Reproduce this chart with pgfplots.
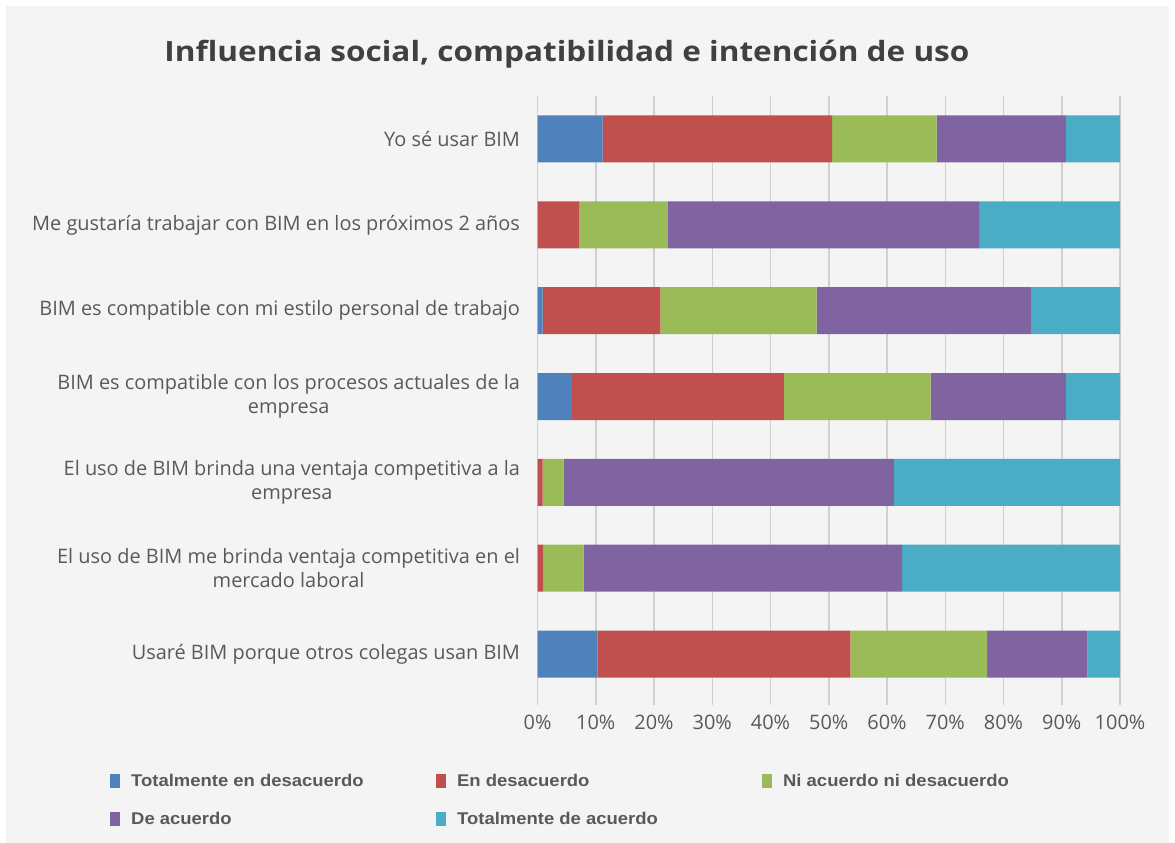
\documentclass[border=0pt]{standalone}
\usepackage{pgfplots}
\pgfplotsset{compat=1.18}
\usepackage{fontspec}
\setmainfont{Open Sans}
\newfontfamily\legfont{Liberation Sans}
\definecolor{bgc}{HTML}{F4F4F4}
\definecolor{cBlue}{HTML}{4F81BD}
\definecolor{cRed}{HTML}{C0504D}
\definecolor{cGreen}{HTML}{9BBB59}
\definecolor{cPurple}{HTML}{8064A2}
\definecolor{cCyan}{HTML}{4BACC6}
\definecolor{txt}{HTML}{595959}
\definecolor{ttl}{HTML}{404040}
\definecolor{gridc}{HTML}{D0D0D0}
\newcommand{\leg}[1]{\makebox[312bp][l]{\hspace*{9bp}\scalebox{1.09}[1]{#1}}}
\begin{document}
\begin{tikzpicture}
\fill[white] (0,0) rectangle (1175bp,-843bp);
\fill[bgc] (6bp,-6bp) rectangle (1169bp,-843bp);
\node[font=\bfseries\fontsize{28}{32}\selectfont, text=ttl] at (567bp,-54bp) {\scalebox{1.13}[1]{Influencia social, compatibilidad e intención de uso}};
\begin{axis}[
  at={(537.5bp,-96bp)}, anchor=north west,
  scale only axis, width=582.5bp, height=601bp,
  xbar stacked, bar width=47bp,
  xmin=0, xmax=100, ymin=0.5, ymax=7.5, y dir=reverse,
  ytick={1,...,7},
  yticklabels={{Yo sé usar BIM},{Me gustaría trabajar con BIM en los próximos 2 años},{BIM es compatible con mi estilo personal de trabajo},{BIM es compatible con los procesos actuales de la\\empresa},{El uso de BIM brinda una ventaja competitiva a la\\empresa},{El uso de BIM me brinda ventaja competitiva en el\\mercado laboral},{Usaré BIM porque otros colegas usan BIM}},
  yticklabel style={align=center, font=\fontsize{20}{24.5}\selectfont, text=txt},
  y tick label style={xshift=-6bp},
  major y tick style={draw=none},
  xtick={0,10,...,100},
  xticklabel={\pgfmathprintnumber{\tick}\%},
  xticklabel style={font=\fontsize{20}{24}\selectfont, text=txt, yshift=-7bp},
  /pgf/number format/assume math mode=true,
  xmajorgrids, grid style={gridc, line width=1.5bp},
  major x tick style={gridc, line width=1.5bp},
  tick align=outside, major tick length=8bp,
  axis x line*=bottom, axis y line*=left,
  x axis line style={draw=none}, y axis line style={draw=none},
  every axis plot/.append style={draw=none},
  legend style={at={(-427.5bp,-676bp)}, anchor=north west, draw=none, fill=none,
    legend columns=3, font=\legfont\bfseries\fontsize{17}{20}\selectfont, text=txt,
    row sep=20bp, inner sep=0pt, column sep=0pt},
  legend cell align=left,
  legend image code/.code={\fill[#1,draw=none] (0bp,-7bp) rectangle (10bp,7bp);},
  clip=false,
]
\addplot[fill=cBlue] coordinates {(11.2,1) (0,2) (0.9,3) (5.9,4) (0,5) (0,6) (10.3,7)};
\addplot[fill=cRed] coordinates {(39.4,1) (7.2,2) (20.2,3) (36.4,4) (0.9,5) (1.0,6) (43.4,7)};
\addplot[fill=cGreen] coordinates {(17.9,1) (15.2,2) (26.8,3) (25.2,4) (3.6,5) (6.9,6) (23.5,7)};
\addplot[fill=cPurple] coordinates {(22.2,1) (53.4,2) (36.8,3) (23.2,4) (56.7,5) (54.7,6) (17.2,7)};
\addplot[fill=cCyan] coordinates {(9.3,1) (24.2,2) (15.3,3) (9.3,4) (38.8,5) (37.4,6) (5.6,7)};
\legend{\leg{Totalmente en desacuerdo},\leg{En desacuerdo},\leg{Ni acuerdo ni desacuerdo},\leg{De acuerdo},\leg{Totalmente de acuerdo}}
\end{axis}
\end{tikzpicture}
\end{document}
